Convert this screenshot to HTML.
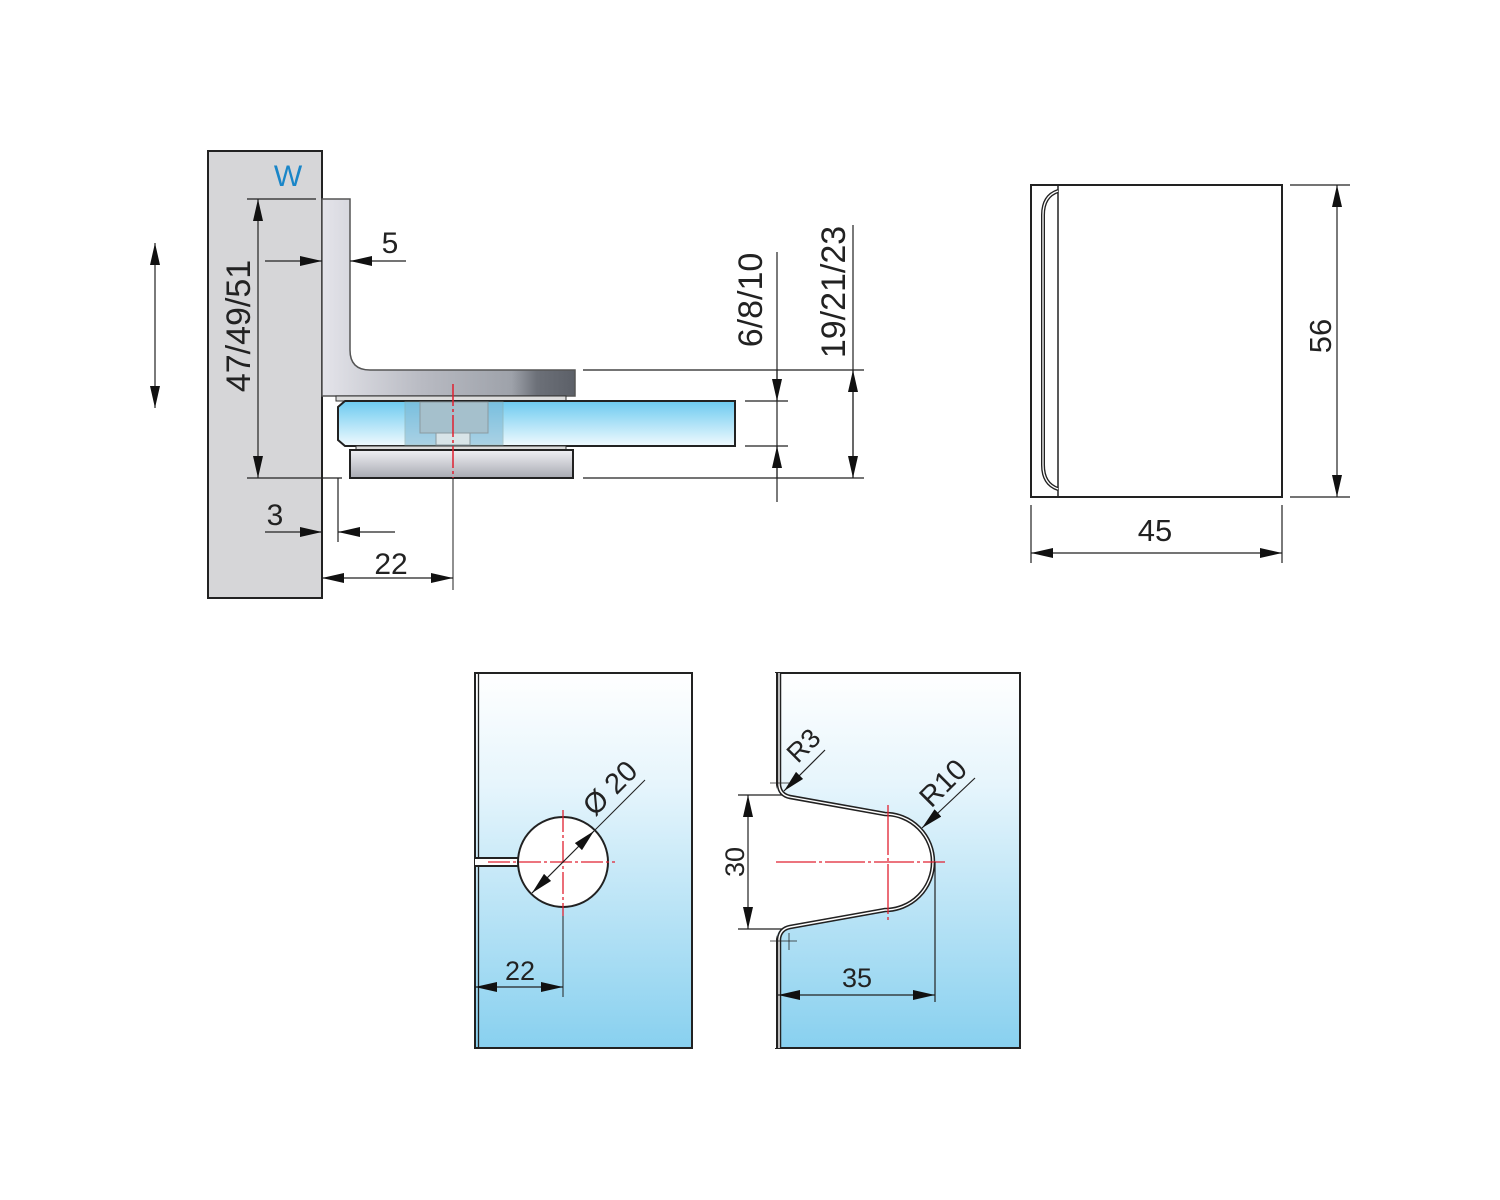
<!DOCTYPE html>
<html><head><meta charset="utf-8"><style>html,body{margin:0;padding:0;background:#fff}svg{display:block}text{font-family:"Liberation Sans",Arial,sans-serif;fill:#222}</style></head><body>
<svg width="1500" height="1200" viewBox="0 0 1500 1200" xmlns="http://www.w3.org/2000/svg">
<defs>
<marker id="a" markerUnits="userSpaceOnUse" markerWidth="24" markerHeight="12" refX="22" refY="5" orient="auto-start-reverse"><path d="M0,0 L22,5 L0,10 Z" fill="#111"/></marker>
<linearGradient id="br" x1="0" x2="1" y1="0" y2="0"><stop offset="0" stop-color="#e4e4ea"/><stop offset="0.4" stop-color="#b8bac2"/><stop offset="0.75" stop-color="#9ea2aa"/><stop offset="0.85" stop-color="#6c7078"/><stop offset="1" stop-color="#5c6068"/></linearGradient>
<linearGradient id="gl" x1="0" x2="0" y1="0" y2="1"><stop offset="0" stop-color="#6ccaf0"/><stop offset="1" stop-color="#f0fafe"/></linearGradient>
<linearGradient id="lp" x1="0" x2="0" y1="0" y2="1"><stop offset="0" stop-color="#f0f0f4"/><stop offset="1" stop-color="#a8aab2"/></linearGradient>
<linearGradient id="pn" x1="0" x2="0" y1="0" y2="1"><stop offset="0" stop-color="#ffffff"/><stop offset="0.3" stop-color="#e6f5fc"/><stop offset="1" stop-color="#88d0ef"/></linearGradient>
</defs>

<rect x="208" y="151" width="114" height="447" fill="#d6d6d8" stroke="#222" stroke-width="2"/>
<text x="288" y="186" font-size="30" text-anchor="middle" style="fill:#1a86c8">W</text>

<path d="M322,199 H350 V350 Q350,370 370,370 H575 V396 H322 Z" fill="url(#br)" stroke="#555" stroke-width="1.5"/>
<rect x="336" y="396" width="230" height="5" fill="#ddd" stroke="#333" stroke-width="1"/>
<path d="M345,401 H735 V446 H345 L338,440 V407 Z" fill="url(#gl)" stroke="#222" stroke-width="2"/>
<rect x="405" y="402" width="98" height="43" fill="#7fb8d4" opacity="0.6" stroke="#8aa" stroke-width="1"/>
<rect x="420" y="402" width="68" height="31" fill="#a5c0cc" stroke="#8a9aa0" stroke-width="1"/>
<rect x="436" y="433" width="34" height="12" fill="#d8e4e8" stroke="#8a9aa0" stroke-width="1"/>
<rect x="356" y="446" width="210" height="4" fill="#ddd" stroke="#333" stroke-width="1"/>
<rect x="350" y="450" width="223" height="28" fill="url(#lp)" stroke="#222" stroke-width="2"/>
<line x1="453" y1="384" x2="453" y2="478" stroke="#e02030" stroke-width="1.5" stroke-dasharray="22,3,3,3"/>
<line x1="453" y1="478" x2="453" y2="590" stroke="#222" stroke-width="1"/>

<g stroke="#222" stroke-width="1.2" fill="none">
<line x1="155" y1="243" x2="155" y2="408" marker-start="url(#a)" marker-end="url(#a)"/>
<line x1="247" y1="199" x2="316" y2="199"/>
<line x1="247" y1="478" x2="342" y2="478"/>
<line x1="258" y1="199" x2="258" y2="478" marker-start="url(#a)" marker-end="url(#a)"/>
<line x1="265" y1="261" x2="322" y2="261" marker-end="url(#a)"/>
<line x1="406" y1="261" x2="350" y2="261" marker-end="url(#a)"/>
<line x1="338" y1="478" x2="338" y2="542"/>
<line x1="265" y1="532" x2="322" y2="532" marker-end="url(#a)"/>
<line x1="395" y1="532" x2="338" y2="532" marker-end="url(#a)"/>
<line x1="322" y1="578" x2="453" y2="578" marker-start="url(#a)" marker-end="url(#a)"/>
<line x1="583" y1="370" x2="864" y2="370"/>
<line x1="583" y1="478" x2="864" y2="478"/>
<line x1="745" y1="401" x2="788" y2="401"/>
<line x1="745" y1="446" x2="788" y2="446"/>
<line x1="777" y1="252" x2="777" y2="502"/>
<line x1="777" y1="370" x2="777" y2="401" marker-end="url(#a)"/>
<line x1="777" y1="478" x2="777" y2="446" marker-end="url(#a)"/>
<line x1="853" y1="225" x2="853" y2="478"/>
<line x1="853" y1="370" x2="853" y2="478" marker-start="url(#a)" marker-end="url(#a)"/>
</g>
<text x="390" y="253" font-size="30" text-anchor="middle">5</text>
<text x="275" y="525" font-size="30" text-anchor="middle">3</text>
<text x="391" y="574" font-size="30" text-anchor="middle">22</text>
<text transform="translate(250,326) rotate(-90)" font-size="34" text-anchor="middle">47/49/51</text>
<text transform="translate(762,300) rotate(-90)" font-size="34" text-anchor="middle">6/8/10</text>
<text transform="translate(845,292) rotate(-90)" font-size="34" text-anchor="middle">19/21/23</text>

<rect x="1031" y="185" width="251" height="312" fill="#fff" stroke="#222" stroke-width="2"/>
<line x1="1058" y1="185" x2="1058" y2="497" stroke="#222" stroke-width="1.5"/>
<path d="M1058,191 Q1043,196 1043,215 V465 Q1043,484 1058,489" fill="none" stroke="#222" stroke-width="4"/>
<path d="M1058,191 Q1043,196 1043,215 V465 Q1043,484 1058,489" fill="none" stroke="#fff" stroke-width="1.3"/>
<g stroke="#222" stroke-width="1.2">
<line x1="1290" y1="185" x2="1350" y2="185"/>
<line x1="1290" y1="497" x2="1350" y2="497"/>
<line x1="1337" y1="185" x2="1337" y2="497" marker-start="url(#a)" marker-end="url(#a)"/>
<line x1="1031" y1="505" x2="1031" y2="563"/>
<line x1="1282" y1="505" x2="1282" y2="563"/>
<line x1="1031" y1="553" x2="1282" y2="553" marker-start="url(#a)" marker-end="url(#a)"/>
</g>
<text transform="translate(1331,336) rotate(-90)" font-size="31" text-anchor="middle">56</text>
<text x="1155" y="541" font-size="31" text-anchor="middle">45</text>

<rect x="475" y="673" width="217" height="375" fill="url(#pn)" stroke="#222" stroke-width="2"/>
<line x1="478.5" y1="673" x2="478.5" y2="1048" stroke="#222" stroke-width="1.3"/>
<path d="M475,858 H520 V866 H475 Z" fill="#fff"/>
<line x1="475" y1="858" x2="520" y2="858" stroke="#222" stroke-width="2"/>
<line x1="475" y1="866" x2="520" y2="866" stroke="#222" stroke-width="2"/>
<circle cx="563" cy="862" r="45" fill="#fff" stroke="#222" stroke-width="2"/>
<g stroke="#e02030" stroke-width="1.3" stroke-dasharray="22,3,3,3">
<line x1="488" y1="862" x2="615" y2="862"/>
<line x1="563" y1="810" x2="563" y2="916"/>
</g>
<line x1="563" y1="916" x2="563" y2="997" stroke="#222" stroke-width="1"/>
<line x1="532" y1="893" x2="594" y2="831" stroke="#222" stroke-width="1.2" marker-start="url(#a)" marker-end="url(#a)"/>
<line x1="594" y1="831" x2="645" y2="780" stroke="#222" stroke-width="1"/>
<line x1="475" y1="987" x2="563" y2="987" stroke="#222" stroke-width="1.2" marker-start="url(#a)" marker-end="url(#a)"/>
<text transform="translate(617,795) rotate(-45)" font-size="29" text-anchor="middle">Ø 20</text>
<text x="520" y="980" font-size="27" text-anchor="middle">22</text>

<rect x="776" y="673" width="244" height="375" fill="url(#pn)" stroke="#222" stroke-width="2"/>
<path d="M776,673 V785 Q778,797 790,799 L885,815 A47,47 0 0 1 885,909 L790,925 Q778,927 776,939 V1048 H770 V673 Z" fill="#fff"/>
<path d="M779,673 V785 Q780,795 790,797 L885,814 A48,48 0 0 1 885,910 L790,927 Q780,929 779,939 V1048" fill="none" stroke="#222" stroke-width="4.5"/>
<path d="M779,673 V785 Q780,795 790,797 L885,814 A48,48 0 0 1 885,910 L790,927 Q780,929 779,939 V1048" fill="none" stroke="#fff" stroke-width="1.4"/>
<rect x="760" y="673" width="15" height="376" fill="#fff"/>
<g stroke="#e02030" stroke-width="1.3">
<line x1="776" y1="862" x2="945" y2="862" stroke-dasharray="40,3,3,3"/>
<line x1="888" y1="805" x2="888" y2="920" stroke-dasharray="50,3,3,3"/>
</g>
<g stroke="#222" stroke-width="1.2">
<line x1="738" y1="795" x2="782" y2="795"/>
<line x1="738" y1="929" x2="782" y2="929"/>
<line x1="748" y1="795" x2="748" y2="929" marker-start="url(#a)" marker-end="url(#a)"/>
<line x1="935" y1="862" x2="935" y2="1002"/>
<line x1="778" y1="995" x2="935" y2="995" marker-start="url(#a)" marker-end="url(#a)"/>
<line x1="825" y1="750" x2="784" y2="791" marker-end="url(#a)"/>
<line x1="975" y1="778" x2="922" y2="828" marker-end="url(#a)"/>
<line x1="770" y1="783" x2="790" y2="783" stroke-width="0.8"/>
<line x1="770" y1="941" x2="797" y2="941" stroke-width="0.8"/>
<line x1="789" y1="933" x2="789" y2="950" stroke-width="0.8"/>
</g>
<text transform="translate(810,752) rotate(-45)" font-size="27" text-anchor="middle">R3</text>
<text transform="translate(950,790) rotate(-45)" font-size="29" text-anchor="middle">R10</text>
<text transform="translate(744,862) rotate(-90)" font-size="27" text-anchor="middle">30</text>
<text x="857" y="987" font-size="27" text-anchor="middle">35</text>
</svg>
</body></html>
